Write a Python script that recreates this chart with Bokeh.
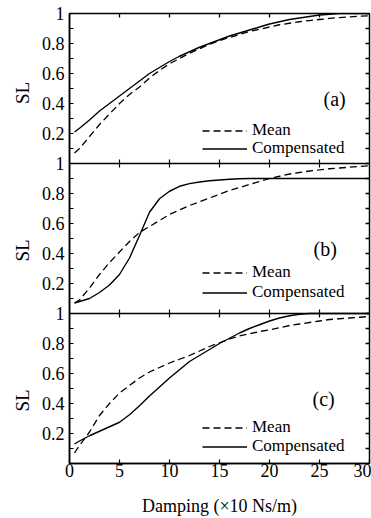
from math import pi
from bokeh.plotting import figure
from bokeh.layouts import row
from bokeh.models import (Range1d, LinearAxis, FixedTicker, Span, Label,
                          Legend, LegendItem)
from bokeh.embed import file_html
from bokeh.resources import INLINE

FONT = "Liberation Serif"

# ---- data ----
damping = [0.5, 1, 2, 3, 4, 5, 6, 7, 8, 9, 10, 11, 12, 13, 14, 15, 16, 17, 18, 19,
           20, 21, 22, 23, 24, 25, 26, 27, 28, 29, 30]

mean_a = [0.07, 0.10, 0.18, 0.26, 0.33, 0.40, 0.46, 0.51, 0.57, 0.62, 0.665, 0.70,
          0.735, 0.765, 0.795, 0.82, 0.84, 0.86, 0.88, 0.895, 0.91, 0.925, 0.935,
          0.945, 0.953, 0.96, 0.967, 0.973, 0.978, 0.982, 0.985]
comp_a = [0.21, 0.235, 0.29, 0.35, 0.40, 0.45, 0.50, 0.55, 0.60, 0.64, 0.68, 0.715,
          0.745, 0.775, 0.80, 0.825, 0.85, 0.87, 0.89, 0.91, 0.93, 0.945, 0.96,
          0.97, 0.98, 0.99, 0.995, 1.0, 1.0, 1.0, 1.0]

mean_b = [0.07, 0.09, 0.17, 0.26, 0.34, 0.41, 0.48, 0.54, 0.58, 0.62, 0.66, 0.69,
          0.72, 0.745, 0.77, 0.795, 0.82, 0.84, 0.86, 0.88, 0.90, 0.915, 0.93,
          0.94, 0.95, 0.957, 0.965, 0.97, 0.975, 0.98, 0.985]
comp_b = [0.07, 0.08, 0.10, 0.14, 0.19, 0.26, 0.37, 0.52, 0.675, 0.765, 0.815, 0.848,
          0.866, 0.877, 0.885, 0.89, 0.895, 0.898, 0.90, 0.90, 0.90, 0.90, 0.90,
          0.90, 0.90, 0.90, 0.90, 0.90, 0.90, 0.90, 0.90]

mean_c = [0.07, 0.12, 0.21, 0.32, 0.40, 0.47, 0.52, 0.57, 0.61, 0.64, 0.67, 0.695,
          0.72, 0.75, 0.78, 0.805, 0.83, 0.85, 0.865, 0.88, 0.89, 0.905, 0.92,
          0.93, 0.94, 0.95, 0.96, 0.965, 0.97, 0.975, 0.98]
comp_c = [0.13, 0.15, 0.185, 0.215, 0.245, 0.275, 0.325, 0.385, 0.45, 0.51, 0.57,
          0.625, 0.68, 0.72, 0.76, 0.80, 0.835, 0.87, 0.90, 0.925, 0.95, 0.97,
          0.985, 0.995, 1.0, 1.0, 1.0, 1.0, 1.0, 1.0, 1.0]

panel_names = ["a", "b", "c"]            # top to bottom
panel_tags = ["(a)", "(b)", "(c)"]
series_labels = ["Mean", "Compensated"]

x_ticks = [0, 5, 10, 15, 20, 25, 30]
sl_ticks = [0.2, 0.4, 0.6, 0.8, 1.0]
sl_tick_labels = ["0.2", "0.4", "0.6", "0.8", "1"]
sl_minor = [0.1, 0.3, 0.5, 0.7, 0.9]
x_label = "Damping (\u00d710 Ns/m)"
y_label = "SL"

# ---- layout ----
TOP, BOTTOM, H = 13, 51, 518
SIDE_W, MAIN_W = 32, 339
offsets = {"c": 0, "b": 1, "a": 2}
y_range = Range1d(0, 3)
extra = {n: Range1d(-offsets[n], 3 - offsets[n]) for n in panel_names}

p = figure(width=MAIN_W, height=H, output_backend="svg", toolbar_location=None,
           x_range=Range1d(0, 30), y_range=y_range,
           x_axis_location=None, y_axis_location=None,
           min_border_left=37, min_border_right=2, min_border_top=TOP,
           min_border_bottom=BOTTOM)
for g in p.grid:
    g.visible = False
p.outline_line_color = "black"
p.outline_line_width = 1.5
p.background_fill_color = "white"
p.border_fill_color = "white"
for n in panel_names:
    p.extra_y_ranges[n] = extra[n]

# side strip carrying the rotated "SL" titles of the three panels
s = figure(width=SIDE_W, height=H, output_backend="svg", toolbar_location=None,
           x_range=Range1d(0, 1), y_range=y_range,
           x_axis_location=None, y_axis_location=None,
           min_border_left=0, min_border_right=0, min_border_top=TOP,
           min_border_bottom=BOTTOM)
for g in s.grid:
    g.visible = False
s.outline_line_color = None
s.background_fill_color = "white"
s.border_fill_color = "white"
for n in panel_names:
    s.extra_y_ranges[n] = extra[n]

# left axis (labels per panel)
yt, ym, ov = [], [], {}
for n in panel_names:
    off = offsets[n]
    for t, lab in zip(sl_ticks, sl_tick_labels):
        v = round(off + t, 3)
        yt.append(v)
        ov[v] = lab
    for t in sl_minor:
        ym.append(round(off + t, 3))
yt.sort()
ym.sort()

left = LinearAxis(ticker=FixedTicker(ticks=yt, minor_ticks=ym),
                  major_label_overrides=ov,
                  major_tick_in=4, major_tick_out=0,
                  minor_tick_in=4, minor_tick_out=0,
                  major_tick_line_width=1.2, minor_tick_line_width=1.2,
                  axis_line_color="black", axis_line_width=1.5,
                  major_label_text_font=FONT, major_label_text_font_size="18px",
                  major_label_text_color="black", major_label_standoff=5)
p.add_layout(left, "left")

bottom = LinearAxis(ticker=FixedTicker(ticks=x_ticks, minor_ticks=[]),
                    major_tick_in=4, major_tick_out=0,
                    major_tick_line_width=1.2, axis_line_color="black",
                    axis_line_width=1.5,
                    major_label_text_font=FONT, major_label_text_font_size="18px",
                    major_label_text_color="black", major_label_standoff=0,
                    axis_label=x_label, axis_label_text_font=FONT,
                    axis_label_text_font_size="18px",
                    axis_label_text_font_style="normal",
                    axis_label_text_color="black", axis_label_standoff=16)
p.add_layout(bottom, "below")

# inward ticks on the right and top edges (markers clipped by the frame)
right_ticks = sorted(yt + ym)
p.scatter(x=[x_ticks[-1]] * len(right_ticks), y=right_ticks, marker="dash",
          size=8, line_color="black", line_width=1.3)
p.scatter(x=x_ticks[1:-1], y=[3] * (len(x_ticks) - 2), marker="dash",
          angle=pi / 2, size=8, line_color="black", line_width=1.3)

# panel separators with crossing ticks
for n in ["b", "a"]:
    p.add_layout(Span(location=offsets[n], dimension="width",
                      line_color="black", line_width=1.5))
    p.scatter(x=x_ticks[1:-1], y=[offsets[n]] * (len(x_ticks) - 2),
              marker="dash", angle=pi / 2, size=8,
              line_color="black", line_width=1.2)

series = {"a": (mean_a, comp_a), "b": (mean_b, comp_b), "c": (mean_c, comp_c)}
# legend rows: (x, y) of each one-row legend box, px from the frame's bottom-left
legend_rows = {"a": [(133, 323), (133, 305)],
               "b": [(133, 181), (133, 161)],
               "c": [(133, 26), (133, 7)]}
tag_x = {"a": 25.4, "b": 24.4, "c": 24.3}
sl_y = {"a": 0.47, "b": 0.42, "c": 0.42}

for n, tag in zip(panel_names, panel_tags):
    mean, comp = series[n]
    r1 = p.line(damping, mean, y_range_name=n, line_color="black",
                line_width=1.3, line_dash="7 4")
    r2 = p.line(damping, comp, y_range_name=n, line_color="black",
                line_width=1.4)
    for lab, r, loc in zip(series_labels, [r1, r2], legend_rows[n]):
        leg = Legend(items=[LegendItem(label=lab, renderers=[r])],
                     location=loc, orientation="vertical",
                     border_line_color=None, background_fill_alpha=0,
                     padding=0, margin=0, spacing=0,
                     glyph_width=45, glyph_height=19, label_height=19,
                     label_standoff=5, label_text_font=FONT,
                     label_text_font_size="17px", label_text_color="black")
        p.add_layout(leg)
    p.add_layout(Label(x=tag_x[n], y=0.43, y_range_name=n, text=tag,
                       text_font=FONT, text_font_size="20px",
                       text_baseline="middle", text_color="black"))
    s.add_layout(Label(x=0.69, y=sl_y[n], y_range_name=n,
                       text=y_label, angle=pi / 2, text_align="center",
                       text_baseline="middle", text_font=FONT,
                       text_font_size="19px", text_color="black"))

layout = row(s, p, spacing=0)
open("out.html", "w").write(file_html(layout, INLINE))
